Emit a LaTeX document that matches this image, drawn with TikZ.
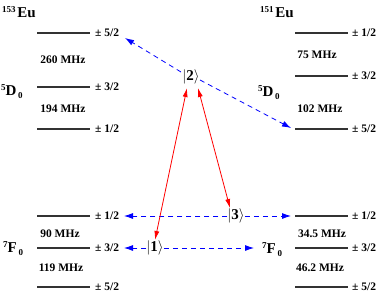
\documentclass[tikz,border=0pt]{standalone}
\usepackage{fontspec}
\setmainfont{Liberation Serif}
\usetikzlibrary{arrows.meta}
\begin{document}
\begin{tikzpicture}[x=1pt,y=-1pt,
  lvl/.style={line width=1.5pt, draw=black!80},
  pm/.style={font=\bfseries\fontsize{11.5}{12}\selectfont, inner sep=0pt, anchor=west},
  mhz/.style={font=\bfseries\fontsize{11.5}{12}\selectfont, inner sep=0pt},
  iso/.style={font=\bfseries, inner sep=0pt, anchor=west},
  ket/.style={font=\fontsize{15}{15}\selectfont, inner sep=0pt},
  bl/.style={draw=blue, dash pattern=on 5pt off 4pt, line width=0.8pt, -{Latex[length=9pt,width=6pt]}},
  rd/.style={draw=red, line width=0.8pt, {Latex[length=9pt,width=5pt]}-{Latex[length=9pt,width=5pt]}}]
\useasboundingbox (0,0) rectangle (382,292);
\newcommand{\iso}[2]{\raisebox{5pt}{\fontsize{9}{9}\selectfont #1}\,{\fontsize{15}{15}\selectfont #2}}
\newcommand{\term}[3]{\raisebox{5pt}{\fontsize{9}{9}\selectfont #1}{\fontsize{15}{15}\selectfont #2}\,\raisebox{-3pt}{\fontsize{9}{9}\selectfont #3}}
% levels
\foreach \y in {33,87,129,216,248,287}{
  \draw[lvl] (37,\y) -- (90,\y);
}
\foreach \y in {33,76,129,216,248,287}{
  \draw[lvl] (295,\y) -- (348,\y);
}
% left labels
\node[pm] (la5) at (95,33) {± 5/2};
\node[pm] (la3) at (95,87) {± 3/2};
\node[pm] (la1) at (95,129) {± 1/2};
\node[pm] (lg1) at (95,216) {± 1/2};
\node[pm] (lg3) at (95,248) {± 3/2};
\node[pm] (lg5) at (95,287) {± 5/2};
% right labels
\node[pm] (ra1) at (352,33) {± 1/2};
\node[pm] (ra3) at (352,76) {± 3/2};
\node[pm] (ra5) at (352,129) {± 5/2};
\node[pm] (rg1) at (352,216) {± 1/2};
\node[pm] (rg3) at (352,248) {± 3/2};
\node[pm] (rg5) at (352,287) {± 5/2};
% MHz
\node[mhz] (m260) at (63,60) {260 MHz};
\node[mhz] (m194) at (63,109) {194 MHz};
\node[mhz] (m90) at (60,234) {90 MHz};
\node[mhz] (m119) at (61,268) {119 MHz};
\node[mhz] (m75) at (317,55) {75 MHz};
\node[mhz] (m102) at (320,109) {102 MHz};
\node[mhz] (m345) at (322,234) {34.5 MHz};
\node[mhz] (m462) at (320,268) {46.2 MHz};
% isotopes and terms
\node[iso] (eu153) at (2,12) {\iso{153}{Eu}};
\node[iso] (eu151) at (260,12) {\iso{151}{Eu}};
\node[iso] (dl) at (1,92) {\term{5}{D}{0}};
\node[iso] (dr) at (258,93) {\term{5}{D}{0}};
\node[iso] (fl) at (3,249) {\term{7}{F}{0}};
\node[iso] (fr) at (262,250) {\term{7}{F}{0}};
% kets
\node[ket] (k2) at (191,77) {$|$\textbf{2}$\rangle$};
\node[ket] (k3) at (236,216) {$|$\textbf{3}$\rangle$};
\node[ket] (k1) at (155,248) {$|$\textbf{1}$\rangle$};
% arrow endpoints
\coordinate (s2l) at (181,72);
\coordinate (s2r) at (200,80);
\coordinate (t5) at (125,38);
\coordinate (tr5) at (291,128);
\coordinate (tl1) at (124,216);
\coordinate (tr1) at (291,216);
\coordinate (tl3) at (124,248);
\coordinate (tf) at (254,248);
% blue arrows
\draw[bl] (s2l) -- (t5);
\draw[bl] (s2r) -- (tr5);
\draw[bl] (k3.west) -- (tl1);
\draw[bl] (k3.east) -- (tr1);
\draw[bl] (k1.west) -- (tl3);
\draw[bl] (k1.east) -- (tf);
% red arrows
\coordinate (r2a) at (187,88);
\coordinate (r2b) at (198,88);
\coordinate (r1) at (155,240);
\coordinate (r3) at (230,208);
\draw[rd] (r1) -- (r2a);
\draw[rd] (r2b) -- (r3);
\end{tikzpicture}
\end{document}
